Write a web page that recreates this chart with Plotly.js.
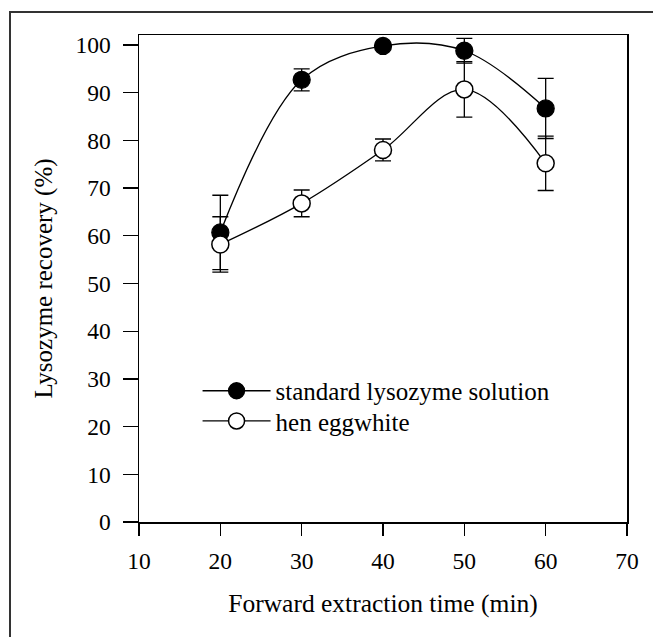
<!DOCTYPE html>
<html>
<head>
<meta charset="utf-8">
<script src="https://cdn.plot.ly/plotly-3.0.1.min.js"></script>
<style>
  html, body { margin: 0; padding: 0; background: #fff; }
  #wrap { position: relative; width: 653px; height: 637px; }
  #chart { width: 653px; height: 637px; }
  #frame { position: absolute; left: 9px; top: 11px; right: 0; bottom: 0;
           border-top: 2px solid #333; border-left: 2px solid #333; pointer-events: none; }
</style>
</head>
<body>
<div id="wrap">
  <div id="chart"></div>
  <div id="frame"></div>
</div>
<script>
// Forward extraction time (min)
const times = [20, 30, 40, 50, 60];

// Lysozyme recovery (%)
const standardRecovery = [60.7, 92.7, 99.8, 98.8, 86.7];
const standardError    = [7.8, 2.3, 0.0, 2.6, 6.3];

const eggwhiteRecovery = [58.2, 66.8, 78.0, 90.7, 75.2];
const eggwhiteError    = [5.8, 2.8, 2.3, 5.8, 5.7];

const seriesNames = ['standard lysozyme solution', 'hen eggwhite'];

const xTicks = [10, 20, 30, 40, 50, 60, 70];
const yTicks = [0, 10, 20, 30, 40, 50, 60, 70, 80, 90, 100];

const serif = 'Liberation Serif, Times New Roman, serif';

const traces = [
  {
    x: times, y: standardRecovery, name: seriesNames[0], legend: 'legend',
    type: 'scatter', mode: 'lines+markers',
    line: { color: '#000', width: 1.3, shape: 'spline', smoothing: 1 },
    marker: { size: 17, color: '#000', line: { color: '#000', width: 1.3 } },
    error_y: { type: 'data', array: standardError, visible: true, color: '#000', thickness: 1.3, width: 8 }
  },
  {
    x: times, y: eggwhiteRecovery, name: seriesNames[1], legend: 'legend2',
    type: 'scatter', mode: 'lines+markers',
    line: { color: '#000', width: 1.3, shape: 'spline', smoothing: 1 },
    marker: { size: 17, color: '#fff', line: { color: '#000', width: 1.5 } },
    error_y: { type: 'data', array: eggwhiteError, visible: true, color: '#000', thickness: 1.3, width: 8 }
  }
];

const legendCommon = {
  xanchor: 'left', yanchor: 'middle',
  bgcolor: 'rgba(0,0,0,0)', borderwidth: 0,
  font: { family: serif, size: 25, color: '#000' },
  itemwidth: 68
};

const layout = {
  width: 653, height: 637,
  margin: { l: 139, r: 26, t: 35, b: 115 },
  paper_bgcolor: '#fff', plot_bgcolor: '#fff',
  font: { family: serif, color: '#000', size: 23.5 },
  showlegend: true,
  legend: Object.assign({}, legendCommon, { x: 0.12, y: 0.269 }),
  legend2: Object.assign({}, legendCommon, { x: 0.12, y: 0.207 }),
  xaxis: {
    range: [10, 70], tickvals: xTicks, ticktext: xTicks.map(String),
    showgrid: false, zeroline: false,
    showline: true, mirror: true, linecolor: '#000', linewidth: 1.5,
    ticks: 'outside', ticklen: 12, tickwidth: 1.3, tickcolor: '#000',
    ticklabelstandoff: 5,
    tickfont: { family: serif, size: 23.5, color: '#000' },
    title: { text: 'Forward extraction time (min)', font: { family: serif, size: 25.5, color: '#000' }, standoff: 21 }
  },
  yaxis: {
    range: [0, 102.1], tickvals: yTicks, ticktext: yTicks.map(String),
    showgrid: false, zeroline: false,
    showline: true, mirror: true, linecolor: '#000', linewidth: 1.5,
    ticks: 'outside', ticklen: 15, tickwidth: 1.3, tickcolor: '#000',
    ticklabelstandoff: 7,
    tickfont: { family: serif, size: 23.5, color: '#000' },
    title: { text: 'Lysozyme recovery (%)', font: { family: serif, size: 25, color: '#000' }, standoff: 16 }
  }
};

Plotly.newPlot('chart', traces, layout, { displayModeBar: false, staticPlot: true });
</script>
</body>
</html>
